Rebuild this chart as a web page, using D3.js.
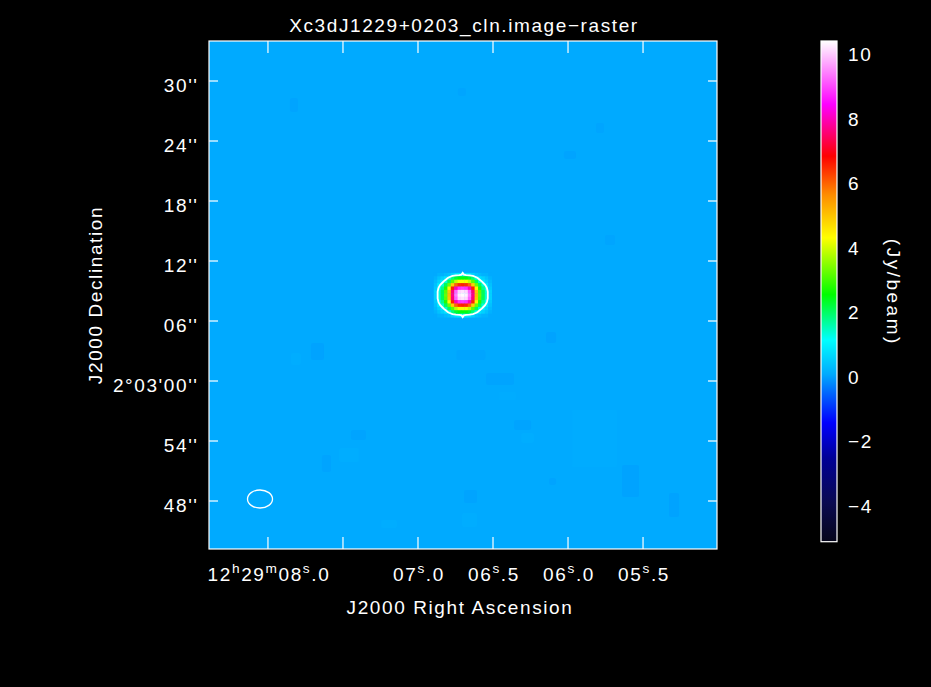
<!DOCTYPE html>
<html><head><meta charset="utf-8">
<script src="https://cdn.jsdelivr.net/npm/d3@7"></script>
<style>body{margin:0;background:#000;overflow:hidden}</style>
</head><body><svg id="c" width="931" height="687"></svg>
<script>
// ---------------- DATA ----------------
const title = "Xc3dJ1229+0203_cln.image\u2212raster";
const xTitle = "J2000 Right Ascension";
const yTitle = "J2000 Declination";
const cbTitle = "(Jy/beam)";

// RA (seconds of 12h29m) and Dec (arcsec offset from +2°03'00")
const raDomain = [8.393, 5.007];
const decDomain = [-16.8, 34.0];
const raTicks = [8.0, 7.5, 7.0, 6.5, 6.0, 5.5];
const raTickLabels = ["12^h29^m08^s.0", "", "07^s.0", "06^s.5", "06^s.0", "05^s.5"];
const decTicks = [30, 24, 18, 12, 6, 0, -6, -12];
const decTickLabels = ["30''", "24''", "18''", "12''", "06''", "2°03'00''", "54''", "48''"];

// colour bar (Jy/beam)
const cbDomain = [-5.19, 10.33];
const cbTicks = [-4, -2, 0, 2, 4, 6, 8, 10];
const cbTickLabels = ["\u22124", "\u22122", "0", "2", "4", "6", "8", "10"];
const cmapValues = [-5.19, -4.0, -2.6, -1.5, -0.6, 0.0, 1.06, 2.47, 4.23, 5.57, 6.76, 8.36, 10.33];
const cmapColors = ["#05051a", "#0a0a50", "#000096", "#0000ff", "#0064ff", "#00aaff", "#00ffff",
                    "#00ff00", "#ffff00", "#ff8c00", "#ff0000", "#ff00ff", "#ffffff"];

// background level
const bgValue = 0.0;

// compact source: centre and pixel grid (Jy/beam), 17 cols x 13 rows, cell in arcsec
const srcRA = 6.702, srcDec = 8.6, cellArcsec = 0.34;
const srcCols = 17, srcRows = 13;
const srcGrid = [
 [0.0,0.1,0.1,0.2,0.3,0.5,0.7,0.8,1.1,0.8,0.7,0.5,0.3,0.2,0.1,0.1,0.0],
 [0.1,0.3,0.5,0.7,1.2,1.8,2.2,2.4,2.4,2.4,2.2,1.8,1.2,0.7,0.5,0.3,0.1],
 [0.2,0.5,0.8,1.3,2.0,3.1,3.8,4.2,4.2,4.2,3.8,3.1,2.0,1.3,0.8,0.5,0.2],
 [0.3,0.8,1.3,2.0,3.2,4.8,5.9,6.4,6.5,6.4,5.9,4.8,3.2,2.0,1.3,0.8,0.3],
 [0.4,1.1,1.7,2.7,4.3,6.5,7.9,8.7,8.8,8.7,7.9,6.5,4.3,2.7,1.7,1.1,0.4],
 [0.5,1.3,2.0,3.1,4.9,7.5,9.1,10.0,10.1,10.0,9.1,7.5,4.9,3.1,2.0,1.3,0.5],
 [0.5,1.3,2.0,3.2,5.0,7.6,9.3,10.2,10.3,10.2,9.3,7.6,5.0,3.2,2.0,1.3,0.5],
 [0.5,1.3,2.0,3.1,4.9,7.5,9.1,10.0,10.1,10.0,9.1,7.5,4.9,3.1,2.0,1.3,0.5],
 [0.4,1.1,1.7,2.7,4.3,6.5,7.9,8.7,8.8,8.7,7.9,6.5,4.3,2.7,1.7,1.1,0.4],
 [0.3,0.8,1.3,2.0,3.2,4.8,5.9,6.4,6.5,6.4,5.9,4.8,3.2,2.0,1.3,0.8,0.3],
 [0.2,0.5,0.8,1.3,2.0,3.1,3.8,4.2,4.2,4.2,3.8,3.1,2.0,1.3,0.8,0.5,0.2],
 [0.1,0.3,0.5,0.7,1.2,1.8,2.2,2.4,2.4,2.4,2.2,1.8,1.2,0.7,0.5,0.3,0.1],
 [0.0,0.1,0.1,0.2,0.3,0.5,0.7,0.8,1.1,0.8,0.7,0.5,0.3,0.2,0.1,0.1,0.0]
];
const contourLevels = [1.0];

// faint noise patches: RA(s), Dec(arcsec), width(arcsec), height(arcsec), value
const patchRA  = [7.670, 6.113, 6.647, 6.453, 6.303, 7.397, 7.610, 5.583, 5.293, 6.650, 6.103, 7.827, 5.987, 5.787, 5.720, 6.707,
                  5.823, 7.460, 7.813, 6.657, 7.193, 6.270, 6.403];
const patchDec = [2.95, 4.35, 2.6, 0.2, -4.4, -5.4, -8.25, -10.0, -12.4, -11.55, -10.05, 27.6, 22.6, 25.3, 14.1, 28.9,
                  -5.75, -7.4, 2.2, -13.9, -14.3, -5.7, -1.5];
const patchW   = [1.3, 1.0, 2.9, 2.8, 1.7, 1.5, 0.9, 1.7, 1.0, 1.3, 0.7, 0.8, 1.2, 0.8, 1.0, 0.8,
                  4.5, 2.0, 1.0, 1.5, 1.6, 1.3, 1.7];
const patchH   = [1.7, 1.1, 1.0, 1.2, 1.0, 1.0, 1.7, 3.2, 2.4, 1.3, 0.7, 1.4, 0.8, 1.0, 1.0, 0.8,
                  5.7, 1.4, 1.2, 1.4, 0.8, 1.0, 0.8];
const patchVal = [-0.06, -0.06, -0.04, -0.05, -0.05, -0.05, -0.05, -0.06, -0.06, -0.05, -0.05, -0.05, -0.05, -0.04, -0.04, -0.04,
                  0.03, 0.04, 0.04, 0.04, 0.04, 0.04, 0.03];

// restoring beam
const beamRA = 8.053, beamDec = -11.8, beamMajor = 2.5, beamMinor = 1.8;

// ---------------- LAYOUT ----------------
const frame = {x0: 209, x1: 717, y0: 41, y1: 549};
const cb = {x0: 821, x1: 837, y0: 41, y1: 541.7};
const font = "'Liberation Sans', 'DejaVu Sans', sans-serif";
const fs = 19;
const ls = 1.6;

const svg = d3.select("#c");
svg.append("rect").attr("width", 931).attr("height", 687).attr("fill", "#000");

const x = d3.scaleLinear().domain(raDomain).range([frame.x0, frame.x1]);
const y = d3.scaleLinear().domain(decDomain).range([frame.y1, frame.y0]);
const color = d3.scaleLinear().domain(cmapValues).range(cmapColors).interpolate(d3.interpolateRgb).clamp(true);
const cbY = d3.scaleLinear().domain(cbDomain).range([cb.y1, cb.y0]);

// clip
svg.append("clipPath").attr("id", "clip").append("rect")
  .attr("x", frame.x0).attr("y", frame.y0).attr("width", frame.x1 - frame.x0).attr("height", frame.y1 - frame.y0);
const img = svg.append("g").attr("clip-path", "url(#clip)");

img.append("rect").attr("x", frame.x0).attr("y", frame.y0)
  .attr("width", frame.x1 - frame.x0).attr("height", frame.y1 - frame.y0).attr("fill", color(bgValue));

// patches
const patches = patchRA.map((r, i) => ({ra: r, dec: patchDec[i], w: patchW[i], h: patchH[i], v: patchVal[i]}));
img.selectAll("rect.patch").data(patches).join("rect").attr("class", "patch")
  .attr("x", d => x(d.ra + d.w / 30)).attr("y", d => y(d.dec + d.h / 2))
  .attr("width", d => x(d.ra - d.w / 30) - x(d.ra + d.w / 30))
  .attr("height", d => y(d.dec - d.h / 2) - y(d.dec + d.h / 2))
  .attr("rx", 2)
  .attr("fill", d => color(d.v));

// source cells
const cells = [];
srcGrid.forEach((row, r) => row.forEach((v, c) => {
  cells.push({ra: srcRA - (c - (srcCols - 1) / 2) * cellArcsec / 15,
              dec: srcDec - (r - (srcRows - 1) / 2) * cellArcsec, v});
}));
img.selectAll("rect.cell").data(cells).join("rect").attr("class", "cell")
  .attr("x", d => x(d.ra + cellArcsec / 30)).attr("y", d => y(d.dec + cellArcsec / 2))
  .attr("width", d => x(d.ra - cellArcsec / 30) - x(d.ra + cellArcsec / 30) + 0.4)
  .attr("height", d => y(d.dec - cellArcsec / 2) - y(d.dec + cellArcsec / 2) + 0.4)
  .attr("fill", d => color(d.v));

// contour
const flat = srcGrid.flat();
const contours = d3.contours().size([srcCols, srcRows]).thresholds(contourLevels)(flat);
const proj = d3.geoTransform({point: function (gx, gy) {
  const ra = srcRA - (gx - srcCols / 2) * cellArcsec / 15;
  const dec = srcDec - (gy - srcRows / 2) * cellArcsec;
  this.stream.point(x(ra), y(dec));
}});
img.selectAll("path.ct").data(contours).join("path").attr("class", "ct")
  .attr("d", d3.geoPath(proj)).attr("fill", "none").attr("stroke", "#fff").attr("stroke-width", 1.8)
  .attr("stroke-linejoin", "miter");

// beam
img.append("ellipse").attr("cx", x(beamRA)).attr("cy", y(beamDec))
  .attr("rx", x(beamRA - beamMajor / 30) - x(beamRA))
  .attr("ry", y(beamDec - beamMinor / 2) - y(beamDec))
  .attr("fill", "none").attr("stroke", "#fff").attr("stroke-width", 1.3);

// frame + ticks
svg.append("rect").attr("x", frame.x0).attr("y", frame.y0)
  .attr("width", frame.x1 - frame.x0).attr("height", frame.y1 - frame.y0)
  .attr("fill", "none").attr("stroke", "#fff").attr("stroke-width", 1.2);

const tg = svg.append("g").attr("stroke", "#fff").attr("stroke-width", 1.2);
raTicks.forEach(t => {
  tg.append("line").attr("x1", x(t)).attr("x2", x(t)).attr("y1", frame.y0).attr("y2", frame.y0 + 12);
  tg.append("line").attr("x1", x(t)).attr("x2", x(t)).attr("y1", frame.y1).attr("y2", frame.y1 - 12);
});
decTicks.forEach(t => {
  tg.append("line").attr("y1", y(t)).attr("y2", y(t)).attr("x1", frame.x0).attr("x2", frame.x0 + 9);
  tg.append("line").attr("y1", y(t)).attr("y2", y(t)).attr("x1", frame.x1).attr("x2", frame.x1 - 9);
});

function richText(sel, str, size) {
  const parts = [];
  for (let k = 0; k < str.length; k++) {
    if (str[k] === '^') { parts.push({t: str[k + 1], sup: true}); k++; }
    else if (parts.length && !parts[parts.length - 1].sup) parts[parts.length - 1].t += str[k];
    else parts.push({t: str[k], sup: false});
  }
  let shifted = false;
  parts.forEach(p => {
    const ts = sel.append("tspan").text(p.t);
    if (p.sup) { ts.attr("font-size", size * 0.72).attr("dy", -size * 0.42); shifted = true; }
    else { ts.attr("font-size", size); if (shifted) { ts.attr("dy", size * 0.42); shifted = false; } }
  });
}

const txt = svg.append("g").attr("fill", "#fff").attr("font-family", font).attr("letter-spacing", ls);

// RA labels
raTicks.forEach((t, i) => {
  if (!raTickLabels[i]) return;
  const el = txt.append("text").attr("x", x(t) + 1).attr("y", 581).attr("text-anchor", "middle").attr("font-size", fs);
  richText(el, raTickLabels[i], fs);
});
// Dec labels
decTicks.forEach((t, i) => {
  txt.append("text").attr("x", 197 + ls).attr("y", y(t) + 10.5).attr("text-anchor", "end")
    .attr("font-size", fs).text(decTickLabels[i]);
});
// titles
txt.append("text").attr("x", (frame.x0 + frame.x1) / 2 + 1).attr("y", 31.5).attr("text-anchor", "middle")
  .attr("font-size", fs).text(title);
txt.append("text").attr("x", (frame.x0 + frame.x1) / 2 - 3).attr("y", 614).attr("text-anchor", "middle")
  .attr("font-size", fs).text(xTitle);
txt.append("text").attr("transform", `translate(102,${(frame.y0 + frame.y1) / 2}) rotate(-90)`)
  .attr("text-anchor", "middle").attr("font-size", fs).text(yTitle);

// colour bar
const defs = svg.append("defs");
const grad = defs.append("linearGradient").attr("id", "cbgrad").attr("gradientUnits", "userSpaceOnUse")
  .attr("x1", 0).attr("x2", 0).attr("y1", cbY(cbDomain[0])).attr("y2", cbY(cbDomain[1]));
grad.selectAll("stop").data(cmapValues).join("stop")
  .attr("offset", v => (v - cbDomain[0]) / (cbDomain[1] - cbDomain[0]))
  .attr("stop-color", v => color(v));
svg.append("rect").attr("x", cb.x0).attr("y", cb.y0).attr("width", cb.x1 - cb.x0).attr("height", cb.y1 - cb.y0)
  .attr("fill", "url(#cbgrad)").attr("stroke", "#fff").attr("stroke-width", 1.2);
cbTicks.forEach((t, i) => {
  tg.append("line").attr("x1", cb.x0).attr("x2", cb.x0 + 3.5).attr("y1", cbY(t)).attr("y2", cbY(t));
  tg.append("line").attr("x1", cb.x1).attr("x2", cb.x1 - 3.5).attr("y1", cbY(t)).attr("y2", cbY(t));
  txt.append("text").attr("x", 848).attr("y", cbY(t) + 9.5).attr("font-size", fs).text(cbTickLabels[i]);
});
txt.append("text").attr("transform", `translate(887,${(cb.y0 + cb.y1) / 2 + 1}) rotate(90)`)
  .attr("text-anchor", "middle").attr("font-size", fs).attr("letter-spacing", 2.5).text(cbTitle);
</script>
</body></html>
